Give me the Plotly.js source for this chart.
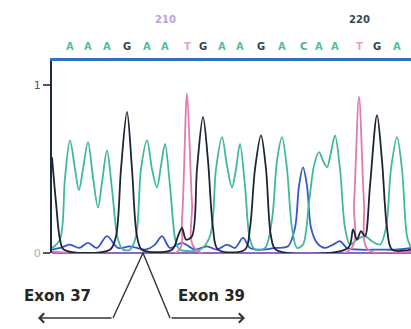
<!DOCTYPE html>
<html>
<head>
<meta charset="utf-8">
<script src="https://cdn.plot.ly/plotly-3.0.1.min.js"></script>
<style>html,body{margin:0;padding:0;background:#fff;}#chart{width:411px;height:329px;}</style>
</head>
<body>
<div id="chart"></div>
<script>
// ---- data (scan position, signal) ----
const aScan = [52,60,65,70,75,79,83,88,93,98,102,107,112,118,123,130,136,141,147,152,157,161,165,170,176,180,200,210,216,222,227,232,236,240,245,250,255,265,272,277,282,287,292,297,303,309,314,319,323,327,331,335,340,345,350,357,365,372,380,386,391,397,402,407,411];
const aSig  = [0.03,0.08,0.45,0.67,0.5,0.375,0.5,0.66,0.45,0.27,0.42,0.61,0.38,0.08,0.02,0.02,0.1,0.5,0.67,0.5,0.39,0.52,0.65,0.4,0.06,0.02,0.02,0.1,0.5,0.69,0.52,0.39,0.5,0.65,0.4,0.08,0.02,0.03,0.2,0.55,0.69,0.5,0.15,0.03,0.05,0.3,0.52,0.6,0.55,0.51,0.6,0.7,0.5,0.15,0.05,0.08,0.1,0.07,0.05,0.15,0.5,0.69,0.5,0.1,0.03];

const gScan = [52,56,60,64,110,116,121,127,132,137,142,172,178,182,186,192,197,203,208,213,218,245,250,255,261,266,271,276,348,353,357,361,365,370,377,382,387,392,411];
const gSig  = [0.57,0.3,0.08,0.02,0.02,0.1,0.5,0.84,0.5,0.1,0.02,0.02,0.1,0.15,0.08,0.1,0.5,0.81,0.55,0.15,0.02,0.02,0.15,0.5,0.7,0.5,0.1,0.02,0.03,0.14,0.08,0.13,0.1,0.4,0.82,0.55,0.15,0.02,0.02];

const tScan = [52,178,182,187,192,196,350,354,359,364,368,411];
const tSig  = [0.01,0.01,0.2,0.95,0.3,0.02,0.02,0.3,0.93,0.3,0.02,0.01];

const cScan = [52,60,70,79,88,97,107,118,130,145,155,162,170,182,195,207,217,227,235,243,250,262,275,288,295,299,303,307,311,317,325,333,340,347,360,380,395,411];
const cSig  = [0.02,0.03,0.05,0.03,0.06,0.03,0.1,0.03,0.04,0.02,0.05,0.1,0.03,0.06,0.02,0.04,0.02,0.05,0.03,0.09,0.03,0.02,0.03,0.04,0.15,0.4,0.51,0.4,0.15,0.06,0.03,0.05,0.07,0.03,0.02,0.02,0.02,0.03];

const bases   = ['A','A','A','G','A','A','T','G','A','A','G','A','C','A','A','T','G','A'];
const basePos = [70,88,107,127,147,165,187,203,222,240,261,282,303,319,335,359,377,397];
const numLabels = ['210','220'];
const numIndex  = [5,15];
const junction  = 143;
const exonLabels = ['Exon 37','Exon 39'];

// ---- styling ----
const colA = '#3fb89c', colG = '#1c2436', colT = '#e27ab2', colC = '#3656d0';
const baseColor = {A:'#4fbf9c', G:'#3c3c3c', T:'#e6a0c4', C:'#45b0aa'};
const H = 192;                       // plot height in px
const py = p => (253 - p) / H;       // pixel row -> paper y
const pxp = p => (p - 52) / 359;     // pixel col -> paper x

function tr(x, y, c) {
  return {x: x, y: y, type: 'scatter', mode: 'lines',
          line: {color: c, width: 1.8, shape: 'spline', smoothing: 0.9},
          hoverinfo: 'skip', showlegend: false, cliponaxis: false};
}
const traces = [tr(cScan, cSig, colC), tr(aScan, aSig, colA), tr(tScan, tSig, colT), tr(gScan, gSig, colG)];

const ann = [];
bases.forEach((b, i) => {
  ann.push({x: basePos[i], xref: 'x', y: py(47), yref: 'paper', text: '<b>' + b + '</b>', showarrow: false,
            xanchor: 'center', yanchor: 'middle',
            font: {family: 'DejaVu Sans', size: 10, color: baseColor[b]}});
});
numLabels.forEach((t, k) => {
  ann.push({x: basePos[numIndex[k]], xref: 'x', y: py(20), yref: 'paper', text: '<b>' + t + '</b>', showarrow: false,
            xanchor: 'center', yanchor: 'middle',
            font: {family: 'DejaVu Sans', size: 10, color: k === 0 ? '#b9a2d9' : '#3a4656'}});
});
ann.push({x: pxp(57), xref: 'paper', y: py(296), yref: 'paper', text: '<b>' + exonLabels[0] + '</b>', showarrow: false,
          xanchor: 'center', yanchor: 'middle',
          font: {family: 'DejaVu Sans', size: 15, color: '#262626'}});
ann.push({x: pxp(211), xref: 'paper', y: py(296), yref: 'paper', text: '<b>' + exonLabels[1] + '</b>', showarrow: false,
          xanchor: 'center', yanchor: 'middle',
          font: {family: 'DejaVu Sans', size: 15, color: '#262626'}});
// horizontal arrows
ann.push({x: pxp(38), xref: 'paper', y: py(318), yref: 'paper', ax: 75, ay: 0, text: '', showarrow: true,
          arrowhead: 4, arrowsize: 1.3, arrowwidth: 1.4, arrowcolor: '#333'});
ann.push({x: pxp(245), xref: 'paper', y: py(318), yref: 'paper', ax: -75, ay: 0, text: '', showarrow: true,
          arrowhead: 4, arrowsize: 1.3, arrowwidth: 1.4, arrowcolor: '#333'});

const shapes = [{
  type: 'path', xref: 'x', yref: 'paper',
  path: 'M ' + (junction - 30) + ',' + py(318) + ' L ' + junction + ',0 L ' + (junction + 27) + ',' + py(318),
  line: {color: '#333', width: 1.4}
}];

const layout = {
  width: 411, height: 329,
  margin: {l: 52, r: 0, t: 61, b: 76, pad: 0},
  paper_bgcolor: '#ffffff', plot_bgcolor: '#ffffff',
  showlegend: false,
  xaxis: {range: [52, 411], side: 'top', showline: true, linecolor: '#2f6fc4', linewidth: 3,
          showticklabels: false, showgrid: false, zeroline: false, ticks: ''},
  yaxis: {range: [0, 192/168], showline: true, linecolor: '#1e2840', linewidth: 2,
          tickvals: [0, 1], ticktext: ['<span style="color:#aaa">0</span>', '1'],
          ticks: 'outside', ticklen: 7, tickcolor: '#555', tickwidth: 1.2,
          tickfont: {family: 'DejaVu Sans', size: 11, color: '#555'},
          showgrid: false, zeroline: true, zerolinecolor: '#9464c4', zerolinewidth: 1.5},
  annotations: ann,
  shapes: shapes
};
Plotly.newPlot('chart', traces, layout, {displayModeBar: false, staticPlot: true});
</script>
</body>
</html>
